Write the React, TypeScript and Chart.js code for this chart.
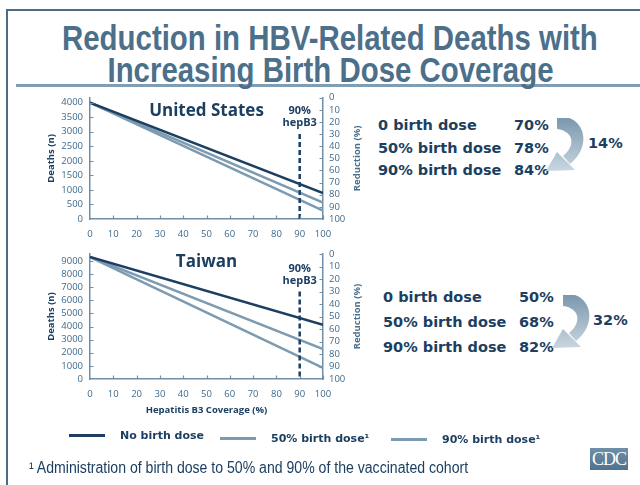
import React, { useEffect, useRef } from "react";
import { Chart, registerables } from "chart.js";
Chart.register(...registerables);

// ---------- data ----------
const coverage = [0, 100];
const usNoBirthDose = [4000, 890];
const us50BirthDose = [4000, 560];
const us90BirthDose = [4000, 290];
const twNoBirthDose = [9300, 4130];
const tw50BirthDose = [9300, 2280];
const tw90BirthDose = [9300, 850];
const usDeathTicks = [0, 500, 1000, 1500, 2000, 2500, 3000, 3500, 4000];
const twDeathTicks = [0, 1000, 2000, 3000, 4000, 5000, 6000, 7000, 8000, 9000];
const reductionTicks = [0, 10, 20, 30, 40, 50, 60, 70, 80, 90, 100];
const coverageTicks = [0, 10, 20, 30, 40, 50, 60, 70, 80, 90, 100];
const hepB3Coverage = [90, 90];
const hepB3Reduction = [30, 100];
const seriesNames = ["No birth dose", "50% birth dose¹", "90% birth dose¹"];
const doseLabels = ["0 birth dose", "50% birth dose", "90% birth dose"];
const usReduction = ["70%", "78%", "84%"];
const twReduction = ["50%", "68%", "82%"];
const usGain = "14%";
const twGain = "32%";

// ---------- styles ----------
const NAVY = "#1c3f61";
const LIGHT = "#7c9ab0";
const AXIS = "#6e8fa7";
const TICKTXT = "#3e6a8b";
const TICKFONT = { family: "'Open Sans', sans-serif", size: 9.5 };
const BOLD = "'DejaVu Sans', sans-serif";
const plain = (v: any) => String(v);

function makeOverlay(o: any) {
  return {
    id: "overlay",
    afterDraw(chart: any) {
      const { ctx, chartArea, scales } = chart;
      const x = scales.x, y = scales.y, y1 = scales.y1;
      ctx.save();
      ctx.strokeStyle = AXIS;
      ctx.lineWidth = 1.2;
      ctx.beginPath();
      x.ticks.forEach((t: any) => {
        if (t.value === 0) return;
        const px = Math.round(x.getPixelForValue(t.value)) + 0.5;
        ctx.moveTo(px, chartArea.bottom);
        ctx.lineTo(px, chartArea.bottom - 3.5);
      });
      y.ticks.forEach((t: any) => {
        if (t.value === 0) return;
        const py = Math.round(y.getPixelForValue(t.value)) + 0.5;
        ctx.moveTo(chartArea.left, py);
        ctx.lineTo(chartArea.left + 3.5, py);
      });
      y1.ticks.forEach((t: any) => {
        if (t.value === 100) return;
        const py = Math.round(y1.getPixelForValue(t.value)) + 0.5;
        ctx.moveTo(chartArea.right, py);
        ctx.lineTo(chartArea.right - 3.5, py);
      });
      ctx.stroke();

      ctx.textAlign = "center";
      ctx.textBaseline = "middle";
      ctx.fillStyle = NAVY;
      ctx.font = "bold 17px 'Open Sans', sans-serif";
      ctx.fillText(o.country, x.getPixelForValue(50), chartArea.top + o.countryDy);
      ctx.font = "bold 11px 'Open Sans', sans-serif";
      const hx = x.getPixelForValue(90);
      ctx.fillText("90%", hx, chartArea.top + o.hepDy);
      ctx.fillText("hepB3", hx, chartArea.top + o.hepDy + 12);
      ctx.save();
      ctx.translate(357, (chartArea.top + chartArea.bottom) / 2);
      ctx.rotate(-Math.PI / 2);
      ctx.fillStyle = "#4a6f8c";
      ctx.font = "bold 9.5px 'Open Sans', sans-serif";
      ctx.fillText("Reduction (%)", 0, 0);
      ctx.restore();
      ctx.restore();
    },
  };
}

function CountryChart(props: any) {
  const ref = useRef<HTMLCanvasElement>(null);
  useEffect(() => {
    const p = props;
    const line = (vals: number[], color: string) => ({
      data: coverage.map((c, i) => ({ x: c, y: vals[i] })),
      borderColor: color,
      borderWidth: 2.5,
      pointRadius: 0,
      yAxisID: "y",
      fill: false,
    });
    const chart = new Chart(ref.current as HTMLCanvasElement, {
      type: "line",
      data: {
        datasets: [
          {
            data: hepB3Coverage.map((c, i) => ({ x: c, y: hepB3Reduction[i] })),
            borderColor: NAVY,
            borderWidth: 2.5,
            borderDash: [5, 3],
            pointRadius: 0,
            yAxisID: "y1",
          },
          line(p.none, NAVY),
          line(p.half, LIGHT),
          line(p.ninety, LIGHT),
        ],
      },
      options: {
        animation: false,
        responsive: false,
        events: [],
        layout: { padding: { top: p.topPad, left: 0, right: 0, bottom: 0 } },
        plugins: { legend: { display: false }, tooltip: { enabled: false } },
        scales: {
          x: {
            type: "linear",
            min: 0,
            max: 100,
            afterBuildTicks: (s: any) => { s.ticks = coverageTicks.map((v) => ({ value: v })); },
            afterFit: (s: any) => { s.height = p.xHeight; },
            ticks: { maxRotation: 0, autoSkip: false, padding: 9.5, color: TICKTXT, font: TICKFONT, callback: plain },
            grid: { drawOnChartArea: false, drawTicks: false },
            border: { color: AXIS, width: 1.5 },
            title: {
              display: !!p.xTitle,
              text: "Hepatitis B3 Coverage (%)",
              color: NAVY,
              font: { family: "'Open Sans', sans-serif", size: 9.5, weight: "bold" },
              padding: { top: 0, bottom: 9 },
            },
          },
          y: {
            type: "linear",
            position: "left",
            min: 0,
            max: p.max,
            afterBuildTicks: (s: any) => { s.ticks = p.ticks.map((v: number) => ({ value: v })); },
            afterFit: (s: any) => { s.width = 90; },
            ticks: { padding: 7, autoSkip: false, color: TICKTXT, font: TICKFONT, callback: plain },
            grid: { drawOnChartArea: false, drawTicks: false },
            border: { color: AXIS, width: 1.5 },
            title: {
              display: true,
              text: "Deaths (n)",
              color: NAVY,
              font: { family: "'Open Sans', sans-serif", size: 9.5, weight: "bold" },
              padding: { top: 46, bottom: 0 },
            },
          },
          y1: {
            type: "linear",
            position: "right",
            min: 0,
            max: 100,
            reverse: true,
            afterBuildTicks: (s: any) => { s.ticks = reductionTicks.map((v) => ({ value: v })); },
            afterFit: (s: any) => { s.width = 47; },
            ticks: { padding: 6, autoSkip: false, color: TICKTXT, font: TICKFONT, callback: plain },
            grid: { drawOnChartArea: false, drawTicks: false },
            border: { color: AXIS, width: 1.5 },
          },
        },
      },
      plugins: [makeOverlay(p)],
    } as any);
    return () => chart.destroy();
  }, []);
  return (
    <canvas
      ref={ref}
      width={370}
      height={props.h}
      style={{ position: "absolute", left: 0, top: props.top, width: 370, height: props.h }}
    />
  );
}

function Arrow({ dx, dy }: { dx: number; dy: number }) {
  return (
    <g transform={`translate(${dx},${dy})`}>
      <defs>
        <linearGradient id={`ag${dx}`} x1="0" y1="119" x2="0" y2="175" gradientUnits="userSpaceOnUse">
          <stop offset="0" stopColor="#7c99af" />
          <stop offset="1" stopColor="#cfdbe4" />
        </linearGradient>
      </defs>
      <path d="M 557 118 L 569 118 C 586 124, 590 148, 570 164 L 563 156 C 576 146, 574 131, 557 129 Z" fill={`url(#ag${dx})`} />
      <path d="M 557 152 L 575 170 L 546 171 Z" fill={`url(#ag${dx})`} />
    </g>
  );
}

const txt = (left: number, top: number, text: string, size: number, extra: any = {}) => (
  <div
    style={{
      position: "absolute",
      left,
      top,
      transform: "translateY(-50%)",
      whiteSpace: "nowrap",
      fontFamily: BOLD,
      fontWeight: "bold",
      fontSize: size,
      color: NAVY,
      lineHeight: 1,
      ...extra,
    }}
  >
    {text}
  </div>
);

const titleLine = (top: number, text: string) => (
  <div
    style={{
      position: "absolute",
      left: 10,
      top,
      width: 640,
      textAlign: "center",
      transform: "translateY(-50%)",
      whiteSpace: "nowrap",
      lineHeight: 1,
    }}
  >
    <span
      style={{
        display: "inline-block",
        transform: "scaleX(0.84)",
        fontFamily: "'Liberation Sans', Arial, sans-serif",
        fontWeight: "bold",
        fontSize: 35,
        color: "#4c6f8a",
      }}
    >
      {text}
    </span>
  </div>
);

export default function App() {
  const usRows = [125, 148, 170];
  const twRows = [297, 322, 347];
  const legendX = [[69, 120, 435], [220, 271, 438], [391, 442, 439]];
  const legendColors = [NAVY, LIGHT, LIGHT];
  return (
    <div style={{ position: "fixed", left: 0, top: 0, width: 640, height: 485, background: "#fff", overflow: "hidden" }}>
      <div style={{ position: "absolute", left: 6, top: 9, width: 634, height: 1.5, background: "#4c6c84" }} />
      <div style={{ position: "absolute", left: 6, top: 9, width: 1.5, height: 476, background: "#4c6c84" }} />
      <div style={{ position: "absolute", left: 16, top: 84, width: 624, height: 3, background: "#7f9db3" }} />
      {titleLine(37, "Reduction in HBV-Related Deaths with")}
      {titleLine(69, "Increasing Birth Dose Coverage")}

      <CountryChart
        top={85}
        h={165}
        topPad={10}
        xHeight={31}
        max={4170}
        ticks={usDeathTicks}
        none={usNoBirthDose}
        half={us50BirthDose}
        ninety={us90BirthDose}
        country="United States"
        countryDy={13}
        hepDy={13}
      />
      <CountryChart
        top={240}
        h={185}
        topPad={14}
        xHeight={46}
        xTitle
        max={9530}
        ticks={twDeathTicks}
        none={twNoBirthDose}
        half={tw50BirthDose}
        ninety={tw90BirthDose}
        country="Taiwan"
        countryDy={8}
        hepDy={15}
      />

      {doseLabels.map((d, i) => <React.Fragment key={"u" + i}>{txt(378, usRows[i], d, 14.5)}{txt(514, usRows[i], usReduction[i], 14.5)}</React.Fragment>)}
      {txt(588, 143, usGain, 14.5)}
      {doseLabels.map((d, i) => <React.Fragment key={"t" + i}>{txt(383, twRows[i], d, 14.5)}{txt(519, twRows[i], twReduction[i], 14.5)}</React.Fragment>)}
      {txt(593, 320, twGain, 14.5)}

      <svg width={640} height={485} style={{ position: "absolute", left: 0, top: 0, pointerEvents: "none" }}>
        <Arrow dx={0} dy={0} />
        <Arrow dx={6} dy={177} />
      </svg>

      {seriesNames.map((s, i) => (
        <React.Fragment key={"l" + i}>
          <div style={{ position: "absolute", left: legendX[i][0], top: legendX[i][2] - 1, width: 36, height: 2.5, background: legendColors[i] }} />
          {txt(legendX[i][1], legendX[i][2], s, 11)}
        </React.Fragment>
      ))}

      <div style={{ position: "absolute", left: 29, top: 468, transform: "translateY(-50%)", whiteSpace: "nowrap", lineHeight: 1 }}>
        <span
          style={{
            display: "inline-block",
            transformOrigin: "left center",
            transform: "scaleX(0.88)",
            fontFamily: "'Liberation Sans', Arial, sans-serif",
            fontSize: 16,
            color: NAVY,
          }}
        >
          ¹ Administration of birth dose to 50% and 90% of the vaccinated cohort
        </span>
      </div>

      <div
        style={{
          position: "absolute",
          left: 590,
          top: 448,
          width: 38,
          height: 22,
          background: "linear-gradient(#6f8fa7, #4f7390)",
          color: "#fff",
          fontFamily: "'Liberation Serif', 'DejaVu Serif', serif",
          fontSize: 18,
          lineHeight: "22px",
          textAlign: "center",
          letterSpacing: -1,
        }}
      >
        CDC
      </div>
    </div>
  );
}
